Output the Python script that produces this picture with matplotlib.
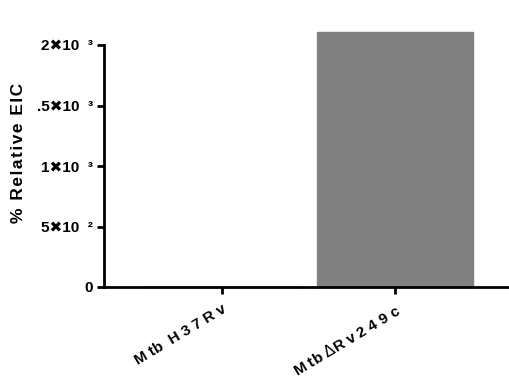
import matplotlib
matplotlib.use("Agg")
import matplotlib.pyplot as plt
from matplotlib.transforms import ScaledTranslation

categories = ["M tb  H 3 7 R v", "M tb $\\Delta$R v 2 4 9 c"]
values = [0, 2107]
yticks = [0, 500, 1000, 1500, 2000]
ytick_labels = ["0", "5\u271610  \u00b2", "1\u271610  \u00b3", ".5\u271610  \u00b3", "2\u271610  \u00b3"]

plt.rcParams['font.family'] = ['Liberation Sans', 'DejaVu Sans']
plt.rcParams['mathtext.fontset'] = 'dejavusans'

fig = plt.figure(figsize=(5.1, 3.81), dpi=100)
ax = fig.add_axes([104/510, 1-287/381, 1-104/510, (287-45)/381])

x = list(range(len(categories)))
ax.bar(x, values, width=0.907, color='#808080', edgecolor='#808080', clip_on=False, zorder=1)

ax.set_ylim(0, 2000)
ax.set_xlim(-0.682, 0.665 + 1)
ax.set_yticks(yticks)
ax.set_yticklabels(ytick_labels, fontsize=11, fontweight='bold')
ax.set_xticks(x)
ax.set_xticklabels(categories, fontsize=11, fontweight='bold', rotation=31,
                   ha='right', rotation_mode='anchor')
off = ScaledTranslation(-10/100, -4/100, fig.dpi_scale_trans)
for lab in ax.get_xticklabels():
    lab.set_transform(lab.get_transform() + off)
hs = "\u200a"
ax.set_ylabel(hs.join("% Relative EIC"), fontsize=12.5, fontweight='bold')
ax.yaxis.set_label_coords((26-104)/406, (287-153)/242)

for s in ['top', 'right']:
    ax.spines[s].set_visible(False)
for s in ['left', 'bottom']:
    ax.spines[s].set_linewidth(2)
    ax.spines[s].set_zorder(3)
ax.tick_params(axis='both', width=2, length=5, direction='out', pad=3)
ax.tick_params(axis='x', pad=6)

fig.savefig("out.png", dpi=100)
